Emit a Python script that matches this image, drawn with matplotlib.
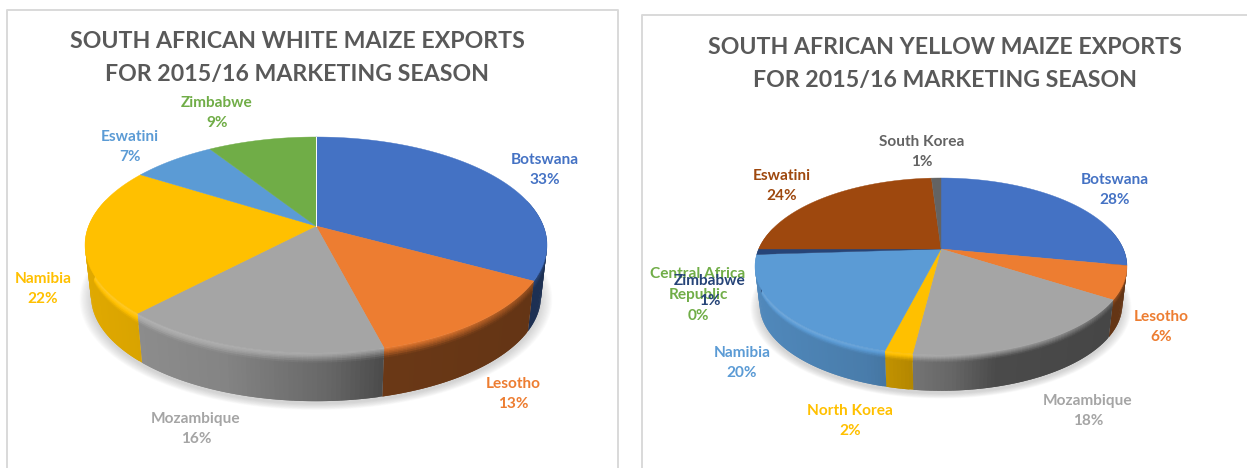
import numpy as np
import matplotlib
matplotlib.use("Agg")
import matplotlib.pyplot as plt
from matplotlib.collections import PolyCollection
from matplotlib.colors import to_rgb

plt.rcParams['font.family'] = ['Lato', 'DejaVu Sans']

# ---- data ----
white_title = ["SOUTH AFRICAN WHITE MAIZE EXPORTS", "FOR 2015/16 MARKETING SEASON"]
white_names = ["Botswana", "Lesotho", "Mozambique", "Namibia", "Eswatini", "Zimbabwe"]
white_values = [33, 13, 16, 22, 7, 9]

yellow_title = ["SOUTH AFRICAN YELLOW MAIZE EXPORTS", "FOR 2015/16 MARKETING SEASON"]
yellow_names = ["Botswana", "Lesotho", "Mozambique", "North Korea", "Namibia",
                "Central Africa\nRepublic", "Zimbabwe", "Eswatini", "South Korea"]
yellow_values = [28, 6, 18, 2, 20, 0, 1, 24, 1]

# ---- styles and layout (in pixels of the picture) ----
white_colors = ["#4472C4", "#ED7D31", "#A5A5A5", "#FFC000", "#5B9BD5", "#70AD47"]
yellow_colors = ["#4472C4", "#ED7D31", "#A5A5A5", "#FFC000", "#5B9BD5",
                 "#70AD47", "#264478", "#9E480E", "#636363"]
white_label_pos = [(545, 170), (513, 394), (196, 429), (43, 289), (130, 147), (217, 113)]
yellow_label_pos = [(1115, 190), (1161, 327), (1088, 411), (850, 421), (742, 363),
                    (698, 295), (710, 291), (782, 186), (922, 152)]
white_geo = dict(cx=316, cy=226, up=89, down=127, rx=231, depth=51, shrink=0.974)
yellow_geo = dict(cx=941, cy=249, up=71, down=106, rx=186, depth=38, shrink=0.975)

TITLE_SIZE = 16.7
LABEL_SIZE = 11.1
LABEL_SPACING = 1.6
TITLE_COLOR = "#595959"
FRAME_COLOR = "#D9D9D9"

fig = plt.figure(figsize=(12.47, 4.68), dpi=100, facecolor="white")
ax = fig.add_axes([0, 0, 1, 1])
ax.set_xlim(0, 1247)
ax.set_ylim(468, 0)
ax.axis("off")


def projector(g):
    """Perspective projection of the unit disc on the tilted pie."""
    k = (g["down"] - g["up"]) / (g["down"] + g["up"])
    b = g["up"] * (1 + k)
    a = g["rx"] * np.sqrt(1 - k * k)

    def top(theta, r=1.0):
        x, v = r * np.sin(theta), r * np.cos(theta)
        w = 1 + k * v
        return g["cx"] + a * x / w, g["cy"] - b * v / w

    def bottom(theta):
        x, y = top(theta)
        ell_c = g["cy"] + (g["down"] - g["up"]) / 2
        return (g["cx"] + (x - g["cx"]) * g["shrink"],
                ell_c + g["depth"] + (y - ell_c) * g["shrink"])

    return top, bottom


def shade_at(u):
    return np.interp(u, [0, 0.3, 0.53, 0.65, 1], [0.88, 0.80, 0.62, 0.45, 0.42])


def rim_at(u):
    return np.interp(u, [0, 0.5, 0.8, 1], [1.2, 1.08, 0.9, 0.6])


def tone(color, f):
    c = np.array(to_rgb(color))
    if f > 1:
        return tuple(c + (1 - c) * min(f - 1, 1))
    return tuple(c * f)


def draw_pie(values, names, colors, label_pos, title, g, title_xy):
    top, bottom = projector(g)
    edges = np.concatenate([[0], np.cumsum(values)]) / np.sum(values) * 2 * np.pi

    # soft shadow under the pie
    th = np.linspace(0, 2 * np.pi, 240)
    bx, by = bottom(th)
    ex, ey = bx.mean(), by.mean()
    for s in np.linspace(1.05, 1.0, 10):
        ax.fill(ex + (bx - ex) * s, ey + 3 + (by - ey) * s,
                color="#808080", alpha=0.035, lw=0, zorder=1)

    # wall and bevel: later strips overlap earlier ones so no seams show
    fractions = np.array([0, 0.03, 0.06, 0.09, 0.12, 0.16, 0.2, 1.0])
    for i, col in enumerate(colors):
        if values[i] == 0:
            continue
        n = max(2, int(np.degrees(edges[i + 1] - edges[i])))
        t = np.linspace(edges[i], edges[i + 1], n + 1)
        step = t[1] - t[0]
        polys, fcs = [], []
        for a0, a1 in zip(t[:-1], t[1:]):
            if np.cos((a0 + a1) / 2) > 0.25:
                continue
            tx0, ty0 = top(a0)
            tx1, ty1 = top(min(a1 + step, edges[i + 1]))
            bx0, by0 = bottom(a0)
            bx1, by1 = bottom(min(a1 + step, edges[i + 1]))
            u = ((tx0 + top(a1)[0]) / 2 - g["cx"] + g["rx"]) / (2 * g["rx"])
            for f0, f1 in zip(fractions[:-1], fractions[1:]):
                f1b = min(f1 + 0.03, 1.0)
                polys.append([(tx0 + (bx0 - tx0) * f0, ty0 + (by0 - ty0) * f0),
                              (tx1 + (bx1 - tx1) * f0, ty1 + (by1 - ty1) * f0),
                              (tx1 + (bx1 - tx1) * f1b, ty1 + (by1 - ty1) * f1b),
                              (tx0 + (bx0 - tx0) * f1b, ty0 + (by0 - ty0) * f1b)])
                m = min((f0 + f1) / 2 / 0.2, 1)
                fac = rim_at(u) * (1 - m) + shade_at(u) * m
                fcs.append(tone(col, fac))
        if polys:
            ax.add_collection(PolyCollection(polys, facecolors=fcs, edgecolors="none",
                                             linewidths=0, zorder=2))

    # top face
    for i, col in enumerate(colors):
        if values[i] == 0:
            continue
        n = max(2, int(np.degrees(edges[i + 1] - edges[i])))
        t = np.linspace(edges[i], edges[i + 1], n + 1)
        x, y = top(t)
        ax.fill(np.r_[g["cx"], x], np.r_[g["cy"], y], color=col, lw=0.3, zorder=3)

    # labels
    for name, val, col, (lx, ly) in zip(names, values, colors, label_pos):
        ax.text(lx, ly, f"{name}\n{val}%", color=col, fontsize=LABEL_SIZE,
                fontweight="bold", ha="center", va="center",
                linespacing=LABEL_SPACING, zorder=5)

    for line, (tx, ty) in zip(title, title_xy):
        ax.text(tx, ty, line, color=TITLE_COLOR, fontsize=TITLE_SIZE,
                fontweight="bold", ha="center", va="center", zorder=5)
    return top


# chart frames
ax.plot([7, 7, 618, 618], [468, 10, 10, 468], color=FRAME_COLOR, lw=1.4, zorder=0)
ax.plot([642, 642, 1247], [468, 15, 15], color=FRAME_COLOR, lw=1.4, zorder=0)

top_w = draw_pie(white_values, white_names, white_colors, white_label_pos, white_title,
                 white_geo, [(297, 42), (297, 74)])
draw_pie(yellow_values, yellow_names, yellow_colors, yellow_label_pos, yellow_title,
         yellow_geo, [(945, 48), (945, 80)])

# thin white seam at the first slice edge of the left pie
sx, sy = top_w(0.0)
ax.plot([white_geo["cx"], sx], [white_geo["cy"], sy], color="white", lw=0.7, zorder=4)

fig.savefig("out.png", dpi=100, facecolor="white")
